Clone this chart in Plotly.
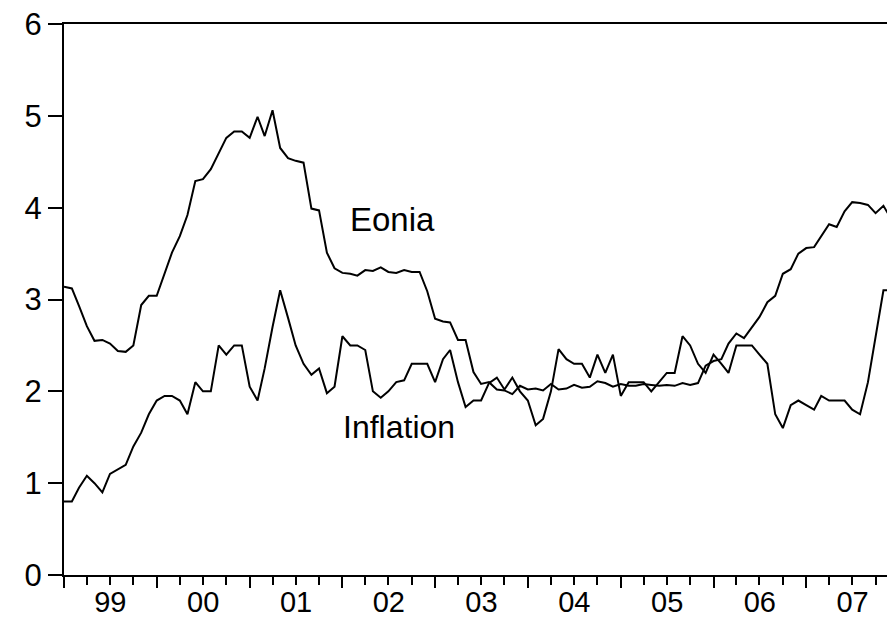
import pandas as pd
import plotly.graph_objects as go

# Monthly observations, 1999M01 - 2007M12
months = pd.date_range("1999-01-01", periods=108, freq="MS")

eonia = [
    3.14, 3.12, 2.93, 2.71, 2.55, 2.56, 2.52, 2.44, 2.43, 2.50, 2.94, 3.04,  # 1999
    3.04, 3.28, 3.51, 3.69, 3.92, 4.29, 4.31, 4.42, 4.59, 4.76, 4.83, 4.83,  # 2000
    4.76, 4.99, 4.78, 5.06, 4.65, 4.54, 4.51, 4.49, 3.99, 3.97, 3.51, 3.34,  # 2001
    3.29, 3.28, 3.26, 3.32, 3.31, 3.35, 3.30, 3.29, 3.32, 3.30, 3.30, 3.09,  # 2002
    2.79, 2.76, 2.75, 2.56, 2.56, 2.21, 2.08, 2.10, 2.02, 2.01, 1.97, 2.06,  # 2003
    2.02, 2.03, 2.01, 2.08, 2.02, 2.03, 2.07, 2.04, 2.05, 2.11, 2.09, 2.05,  # 2004
    2.08, 2.06, 2.06, 2.08, 2.07, 2.06, 2.07, 2.06, 2.09, 2.07, 2.09, 2.28,  # 2005
    2.33, 2.35, 2.52, 2.63, 2.58, 2.70, 2.81, 2.97, 3.04, 3.28, 3.33, 3.50,  # 2006
    3.56, 3.57, 3.69, 3.82, 3.79, 3.96, 4.06, 4.05, 4.03, 3.94, 4.02, 3.88,  # 2007
]

inflation = [
    0.80, 0.80, 0.95, 1.08, 1.00, 0.90, 1.10, 1.15, 1.20, 1.40, 1.55, 1.75,  # 1999
    1.90, 1.95, 1.95, 1.90, 1.75, 2.10, 2.00, 2.00, 2.50, 2.40, 2.50, 2.50,  # 2000
    2.05, 1.90, 2.25, 2.70, 3.10, 2.80, 2.50, 2.30, 2.18, 2.25, 1.98, 2.05,  # 2001
    2.60, 2.50, 2.50, 2.45, 2.00, 1.93, 2.00, 2.10, 2.12, 2.30, 2.30, 2.30,  # 2002
    2.10, 2.35, 2.45, 2.10, 1.83, 1.90, 1.90, 2.09, 2.15, 2.02, 2.15, 2.00,  # 2003
    1.90, 1.63, 1.70, 2.00, 2.46, 2.35, 2.30, 2.30, 2.15, 2.40, 2.20, 2.40,  # 2004
    1.95, 2.10, 2.10, 2.10, 2.00, 2.10, 2.20, 2.20, 2.60, 2.50, 2.30, 2.20,  # 2005
    2.40, 2.30, 2.20, 2.50, 2.50, 2.50, 2.40, 2.30, 1.75, 1.60, 1.85, 1.90,  # 2006
    1.85, 1.80, 1.95, 1.90, 1.90, 1.90, 1.80, 1.75, 2.10, 2.60, 3.10, 3.10,  # 2007
]

series_labels = ["Eonia", "Inflation"]

FONT = "Liberation Sans, Arial, sans-serif"

fig = go.Figure()
for name, vals in zip(series_labels, [eonia, inflation]):
    fig.add_trace(go.Scatter(
        x=months, y=vals, mode="lines", name=name,
        line=dict(color="black", width=2),
        showlegend=False, hoverinfo="skip",
    ))

fig.add_annotation(x="2002-07-18", y=3.87, text="Eonia", showarrow=False,
                   font=dict(family=FONT, size=33, color="black"))
fig.add_annotation(x="2002-08-10", y=1.61, text="Inflation", showarrow=False,
                   font=dict(family=FONT, size=32, color="black"))

fig.update_layout(
    width=889, height=621,
    margin=dict(l=64, r=2, t=24, b=46),
    paper_bgcolor="white", plot_bgcolor="white",
    font=dict(family=FONT, size=31, color="black"),
    xaxis=dict(
        type="date", automargin=False,
        range=["1999-01-01", "2007-11-15"],
        tick0="1999-01-01", dtick="M12", tickformat="%y",
        ticklabelmode="period",
        ticks="outside", ticklen=11, tickwidth=2, tickcolor="black",
        ticklabelstandoff=-11,
        showline=True, linecolor="black", linewidth=2, mirror=True,
        showgrid=False, zeroline=False,
        tickfont=dict(family=FONT, size=29, color="black"),
        minor=dict(dtick="M3", ticks="outside", ticklen=8, tickwidth=2,
                   tickcolor="black", showgrid=False),
    ),
    yaxis=dict(
        automargin=False,
        range=[0, 6], dtick=1, tick0=0,
        ticks="outside", ticklen=14, tickwidth=2, tickcolor="black",
        showline=True, linecolor="black", linewidth=2, mirror=False,
        showgrid=False, zeroline=False,
        tickfont=dict(family=FONT, size=31, color="black"),
    ),
)

fig.write_html(
    "out.html",
    config={"displayModeBar": False},
    post_script="document.body.style.margin='0';document.body.style.overflow='hidden';",
)
